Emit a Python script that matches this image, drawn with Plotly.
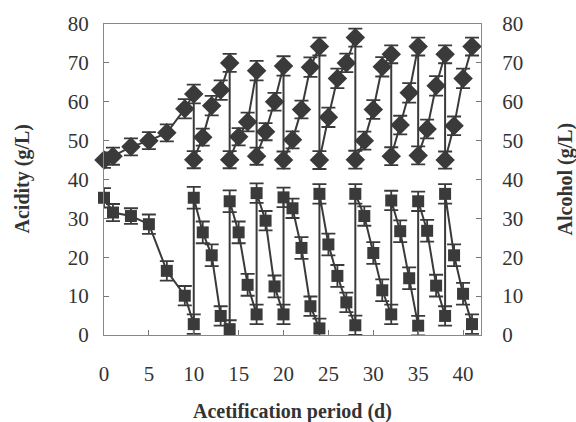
import plotly.graph_objects as go

days = [0, 1, 3, 5, 7, 9, 10, 10, 11, 12, 13, 14, 14, 15, 16, 17, 17, 18, 19, 20, 20,
        21, 22, 23, 24, 24, 25, 26, 27, 28, 28, 29, 30, 31, 32, 32, 33, 34, 35, 35,
        36, 37, 38, 38, 39, 40, 41]
acidity = [45.0, 46.0, 48.4, 50.0, 52.0, 58.2, 62.0, 45.1, 50.9, 59.0, 63.0, 70.0, 45.1,
           51.0, 54.8, 68.0, 46.0, 52.3, 60.0, 69.2, 45.0, 50.2, 58.0, 68.9, 74.2, 45.0,
           56.0, 66.0, 70.0, 76.5, 45.1, 50.0, 58.0, 69.0, 72.2, 46.0, 54.0, 62.3, 74.2,
           46.2, 53.0, 64.1, 72.2, 45.0, 53.8, 66.0, 74.2]
acidity_err = [2.0, 2.2, 2.2, 2.2, 2.2, 2.5, 2.4, 2.2, 2.2, 2.5, 2.5, 2.3, 2.2,
               2.2, 2.4, 2.5, 2.2, 2.2, 2.3, 2.5, 2.2, 2.2, 2.3, 2.5, 2.3, 2.3,
               2.5, 2.5, 2.4, 2.3, 2.3, 2.3, 2.4, 2.5, 2.3, 2.3, 2.4, 2.5, 2.3,
               2.3, 2.4, 2.5, 2.3, 2.2, 2.4, 2.5, 2.3]
alcohol = [35.3, 31.5, 30.6, 28.5, 16.5, 10.1, 2.8, 35.3, 26.4, 20.5, 4.9, 1.5, 34.4,
           26.4, 12.9, 5.3, 36.5, 29.4, 12.5, 5.3, 35.4, 32.6, 22.4, 7.4, 1.7, 36.3,
           23.3, 15.2, 8.4, 2.5, 36.3, 30.6, 21.1, 11.5, 5.3, 34.6, 26.7, 14.6, 2.4,
           34.4, 26.8, 12.7, 4.9, 36.3, 20.5, 10.6, 2.8]
alcohol_err = [2.5, 2.2, 2.0, 2.5, 2.5, 2.5, 2.5, 2.8, 2.8, 2.8, 2.5, 2.3, 2.8,
               2.8, 2.8, 2.5, 2.5, 2.5, 2.8, 2.5, 2.5, 2.5, 2.8, 2.5, 2.5, 2.5,
               2.8, 2.8, 2.5, 2.5, 2.5, 2.5, 2.8, 2.8, 2.5, 2.5, 2.8, 2.8, 2.5,
               2.5, 2.8, 2.8, 2.5, 2.5, 2.8, 2.8, 2.5]

x_ticks = [0, 5, 10, 15, 20, 25, 30, 35, 40]
y_ticks = [0, 10, 20, 30, 40, 50, 60, 70, 80]

dark = "#3a3a3a"
font = "Liberation Serif"

fig = go.Figure()
fig.add_trace(go.Scatter(
    x=days, y=acidity, mode="lines+markers", yaxis="y", cliponaxis=False,
    line=dict(color=dark, width=2),
    marker=dict(symbol="diamond", size=15, color=dark),
    error_y=dict(type="data", array=acidity_err, visible=True, color=dark, thickness=1.8, width=7),
    showlegend=False))
fig.add_trace(go.Scatter(
    x=days, y=alcohol, mode="lines+markers", yaxis="y2", cliponaxis=False,
    line=dict(color=dark, width=2),
    marker=dict(symbol="square", size=12, color=dark),
    error_y=dict(type="data", array=alcohol_err, visible=True, color=dark, thickness=1.8, width=7),
    showlegend=False))

axis_common = dict(showgrid=False, zeroline=False, ticks="inside", ticklen=5,
                   tickcolor="#777", linecolor="#888", linewidth=1,
                   tickfont=dict(family=font, size=21, color="#333"))

fig.update_layout(
    width=576, height=422,
    margin=dict(l=104, r=95, t=20, b=87),
    paper_bgcolor="white", plot_bgcolor="white",
    xaxis=dict(range=[0, 42], tickvals=x_ticks, showline=True, mirror=True,
               ticklabelstandoff=20, **axis_common),
    yaxis=dict(range=[0, 80], tickvals=y_ticks, showline=True, mirror=False,
               ticklabelstandoff=10, **axis_common),
    yaxis2=dict(range=[0, 80], tickvals=y_ticks, showline=True, overlaying="y",
                side="right", ticklabelstandoff=16, **axis_common),
    annotations=[
        dict(text="<b>Acidity (g/L)</b>", x=0, xshift=-82, y=0.5, xref="paper", yref="paper",
             xanchor="center", yanchor="middle", textangle=-90, showarrow=False,
             font=dict(family=font, size=20, color="#333")),
        dict(text="<b>Alcohol (g/L)</b>", x=1, xshift=84, y=0.5, xref="paper", yref="paper",
             xanchor="center", yanchor="middle", textangle=-90, showarrow=False,
             font=dict(family=font, size=20, color="#333")),
        dict(text="<b>Acetification period (d)</b>", x=0.5, y=0, yshift=-76, xref="paper",
             yref="paper", xanchor="center", yanchor="middle", showarrow=False,
             font=dict(family=font, size=20, color="#333")),
    ],
)

fig.write_html("out.html", config={"displayModeBar": False},
               post_script="document.body.style.margin='0';document.body.style.overflow='hidden';")
